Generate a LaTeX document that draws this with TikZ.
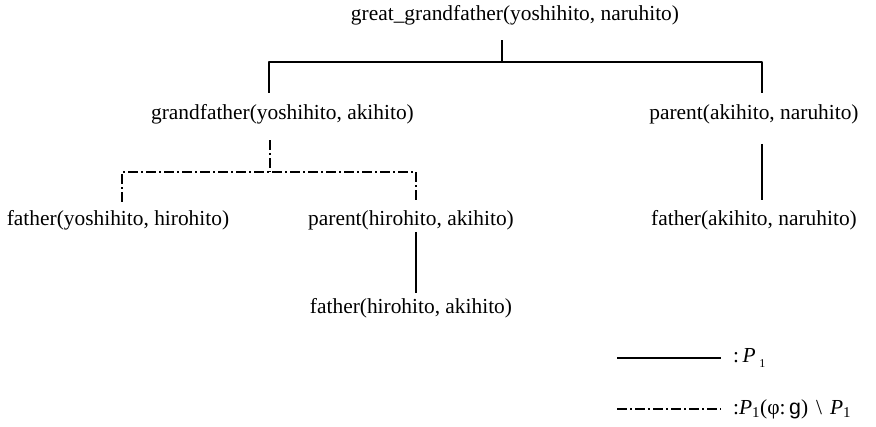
\documentclass[tikz,border=0pt]{standalone}
\usepackage{fontspec}
\setmainfont{Liberation Serif}
\setsansfont{Liberation Sans}
\begin{document}
\begin{tikzpicture}[x=1pt,y=1pt,line join=round,
  lbl/.style={inner sep=0pt,font=\fontsize{21.4}{26}\selectfont},
  solidlink/.style={line width=1.3pt},
  dashlink/.style={line width=1.3pt,dash pattern=on 10pt off 3pt on 2pt off 3pt}]
\useasboundingbox (0,0) rectangle (876,427);

\node[lbl] (ggf) at (515,412) {great\_grandfather(yoshihito, naruhito)};
\node[lbl] (gf) at (282.5,313) {grandfather(yoshihito, akihito)};
\node[lbl] (pan) at (754,313) {parent(akihito, naruhito)};
\node[lbl] (fyh) at (118,207) {father(yoshihito, hirohito)};
\node[lbl] (pha) at (411,207) {parent(hirohito, akihito)};
\node[lbl] (fan) at (754,207) {father(akihito, naruhito)};
\node[lbl] (fha) at (411,119) {father(hirohito, akihito)};

\draw[solidlink]([xshift=-13pt,yshift=-15pt]ggf.south) -- ++(0,-22) coordinate (topbar);
\draw[solidlink]([xshift=-13.5pt,yshift=11pt]gf.north) |- (topbar) -| ([xshift=8pt,yshift=11pt]pan.north);
\draw[dashlink]([xshift=-12.5pt,yshift=-16pt]gf.south) -- ++(0,-32) coordinate (midbar);
\draw[dashlink]([xshift=4pt,yshift=8pt]fyh.north) |- (midbar) -| ([xshift=5pt,yshift=8pt]pha.north);
\draw[solidlink]([xshift=5pt,yshift=-2pt]pha.south) -- ([xshift=5pt,yshift=5pt]fha.north);
\draw[solidlink]([xshift=8pt,yshift=-20pt]pan.south) -- ([xshift=8pt,yshift=10pt]fan.north);

    \coordinate (keyAL) at (617,69);
    \coordinate (keyAR) at (721,69);
    \coordinate (keyBL) at (617,18);
    \coordinate (keyBR) at (721,18);
\draw[solidlink](keyAL) -- (keyAR);
\draw[dashlink](keyBL) -- (keyBR);
    \node[lbl,anchor=west] (keyA) at (733,69) {:\,\textit{P}\,\raisebox{-5pt}{\fontsize{12}{12}\selectfont 1}};
    \node[lbl,anchor=west] (keyB) at (733,18) {:\textit{P}\textsubscript{1}(φ:\,{\sffamily g})\hspace{8pt}\textbackslash\hspace{8pt}\textit{P}\textsubscript{1}};
\end{tikzpicture}
\end{document}
